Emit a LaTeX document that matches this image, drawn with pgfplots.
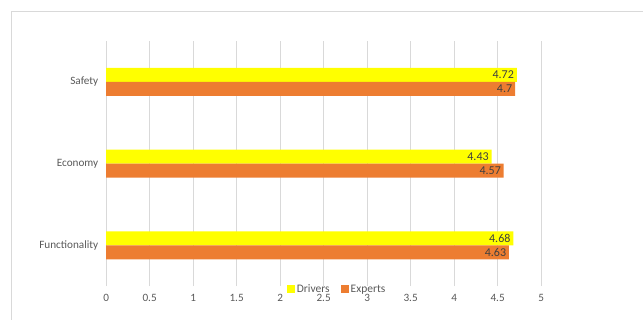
\documentclass[border=0pt]{standalone}
\usepackage{pgfplots}
\pgfplotsset{compat=1.18}
\usepackage{fontspec}
\setmainfont{Carlito}
\definecolor{cyel}{HTML}{FFFF00}
\definecolor{corg}{HTML}{ED7D31}
\definecolor{cgrid}{HTML}{D9D9D9}
\definecolor{ctick}{HTML}{595959}
\definecolor{clab}{HTML}{404040}
\begin{document}
\fontsize{11}{13}\selectfont
\begin{tikzpicture}[x=1pt,y=1pt]
\useasboundingbox (0,0) rectangle (643,320);
\draw[cgrid,line width=0.8pt] (11.5,0) -- (11.5,308.5) -- (643,308.5);
\begin{axis}[
  at={(122,41.5)}, anchor=south west,
  scale only axis, width=435pt, height=245pt,
  xmin=0, xmax=5, ymin=-0.5, ymax=2.5,
  xtick={0,0.5,...,5},
  ytick={0,1,2},
  yticklabels={Functionality,Economy,Safety},
  axis line style={draw=none},
  major tick length=0pt,
  xmajorgrids, grid style={cgrid,line width=0.8pt},
  ymajorgrids=false,
  tick label style={font=\fontsize{11.2}{13}\selectfont, text=ctick},
  /pgf/number format/assume math mode=true,
  yticklabel style={xshift=-4pt},
  xticklabel style={yshift=-4.5pt},
  xbar, bar width=14pt,
  nodes near coords,
  every node near coord/.append style={anchor=east, text=clab, font=\fontsize{12}{14}\selectfont, xshift=1pt},
  legend style={at={(0.531,-0.012)}, anchor=center, draw=none, fill=none, legend columns=2, font=\fontsize{11.5}{13}\selectfont, text=ctick, inner xsep=1pt, nodes={text height=1.6ex, text depth=0.4ex}, /tikz/every even column/.append style={column sep=9pt}},
  clip=false,
]
\addplot[draw=none, fill=cyel, bar shift=7pt, legend image code/.code={\fill[cyel] (0pt,-4pt) rectangle (8pt,4pt);}] coordinates {(4.68,0) (4.43,1) (4.72,2)};
\addlegendentry{Drivers}
\addplot[draw=none, fill=corg, bar shift=-7pt, legend image code/.code={\fill[corg] (0pt,-4pt) rectangle (8pt,4pt);}] coordinates {(4.63,0) (4.57,1) (4.7,2)};
\addlegendentry{Experts}
\end{axis}
\end{tikzpicture}
\end{document}
